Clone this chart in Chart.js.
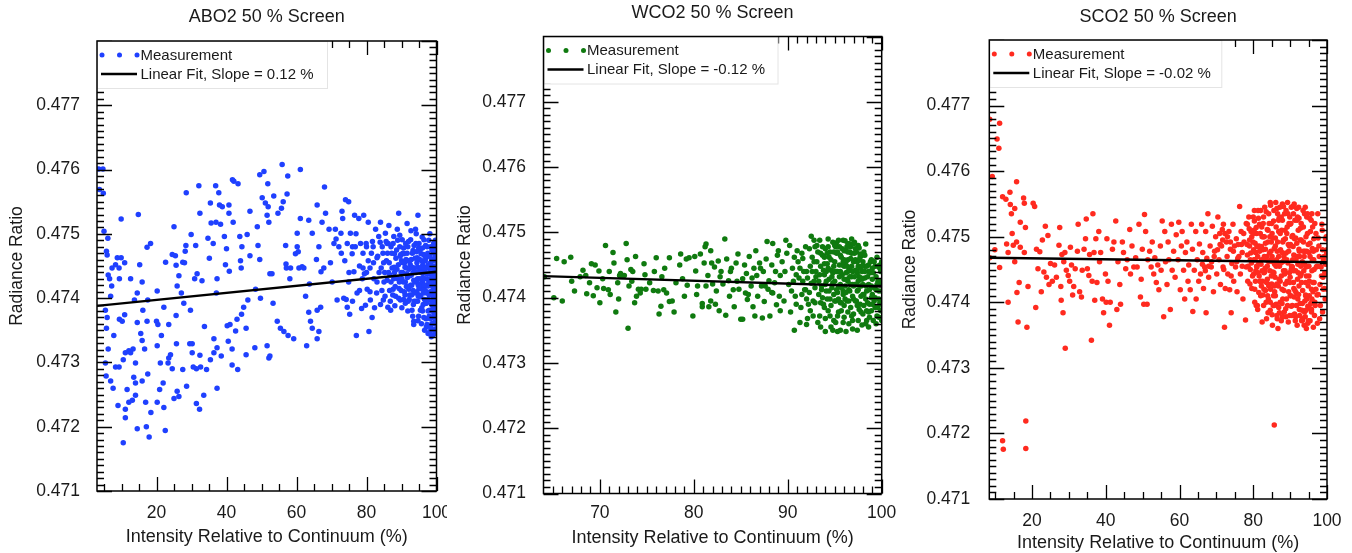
<!DOCTYPE html>
<html><head><meta charset="utf-8">
<script src="https://cdn.jsdelivr.net/npm/chart.js@4.4.1/dist/chart.umd.min.js"></script>
<style>
html,body{margin:0;padding:0;background:#fff;overflow:hidden;width:1352px;height:553px;}
canvas.p{position:absolute;top:0;background:#fff;}
</style></head><body>
<canvas id="c1" class="p" width="464" height="560" style="left:0px"></canvas>
<canvas id="c2" class="p" width="460" height="560" style="left:447px"></canvas>
<canvas id="c3" class="p" width="457" height="560" style="left:897px"></canvas>
<script>
// ---------- data ----------
const yTickValues = [0.471, 0.472, 0.473, 0.474, 0.475, 0.476, 0.477];
const xTicksABO = [20, 40, 60, 80, 100];
const xTicksWCO = [70, 80, 90, 100];
const xTicksSCO = [20, 40, 60, 80, 100];
const titles = ['ABO2 50 % Screen', 'WCO2 50 % Screen', 'SCO2 50 % Screen'];
const fitLabels = ['Linear Fit, Slope = 0.12 %', 'Linear Fit, Slope = -0.12 %', 'Linear Fit, Slope = -0.02 %'];
const fitABO = [[3, 0.47388], [100, 0.47441]];
const fitWCO = [[64, 0.47433], [100, 0.47417]];
const fitSCO = [[8.4, 0.47468], [100, 0.47461]];

const pointsABO = [
[3.5,.47601],[4.7,.47601],[3.7,.47569],[4.8,.47563],[5.0,.47504],[6.1,.47493],[5.7,.47473],[5.9,.47467],[6.2,.47436],[6.6,.47430],[7.2,.47419],[6.9,.47403],[5.4,.47381],[5.9,.47370],[5.7,.47353],[6.2,.47321],[5.4,.47299],[5.6,.47279],[6.9,.47271],[7.6,.47260],[8.3,.47293],[9.3,.47293],[7.8,.47342],[7.3,.47447],[8.3,.47452],[8.8,.47463],[9.3,.47447],[9.4,.47430],[9.4,.47367],[10.2,.47364],[9.0,.47233],[11.1,.47227],[11.1,.47214],[10.5,.47175],[9.9,.47523],[9.9,.47463],[10.9,.47455],[10.9,.47374],[11.1,.47315],[10.5,.47304],[12.1,.47318],[12.6,.47315],[13.3,.47321],[12.1,.47238],[13.1,.47241],[11.6,.47258],[14.0,.47249],[12.6,.47430],[13.7,.47397],[14.5,.47408],[14.8,.47530],[15.2,.47452],[15.9,.47425],[16.1,.47381],[14.5,.47362],[15.5,.47345],[15.9,.47334],[14.0,.47299],[13.5,.47277],[14.0,.47268],[14.5,.47197],[15.9,.47271],[16.6,.47321],[16.9,.47238],[17.1,.47200],[17.3,.47479],[18.3,.47485],[17.5,.47397],[17.3,.47364],[17.5,.47282],[17.9,.47184],[18.4,.47222],[20.2,.47411],[20.0,.47364],[20.4,.47359],[20.2,.47326],[20.2,.47238],[20.9,.47258],[21.4,.47342],[21.1,.47299],[22.1,.47386],[21.9,.47268],[22.1,.47230],[22.5,.47194],[22.6,.47456],[23.3,.47299],[23.5,.47307],[24.0,.47312],[23.5,.47359],[24.5,.47468],[25.0,.47511],[25.4,.47466],[25.6,.47451],[25.9,.47419],[25.6,.47373],[25.7,.47329],[24.5,.47290],[25.0,.47244],[25.9,.47255],[26.4,.47247],[26.4,.47435],[27.5,.47456],[27.1,.47408],[27.5,.47289],[28.0,.47455],[27.8,.47392],[28.2,.47473],[28.4,.47482],[28.5,.47564],[28.6,.47263],[29.5,.47329],[29.7,.47381],[29.9,.47499],[30.2,.47329],[30.2,.47315],[30.5,.47293],[30.9,.47430],[31.2,.47482],[31.4,.47290],[31.6,.47438],[32.1,.47575],[32.4,.47532],[32.4,.47311],[32.6,.47293],[32.3,.47227],[31.4,.47236],[33.0,.47427],[33.7,.47356],[33.5,.47249],[34.3,.47289],[34.7,.47493],[35.1,.47462],[35.4,.47548],[35.4,.47304],[35.6,.47517],[36.2,.47485],[36.4,.47337],[36.4,.47315],[36.9,.47575],[37.0,.47518],[37.3,.47430],[37.1,.47408],[37.3,.47323],[37.3,.47260],[37.8,.47564],[38.0,.47545],[38.3,.47515],[38.8,.47542],[38.5,.47310],[39.4,.47496],[39.7,.47452],[40.0,.47477],[40.2,.47357],[40.5,.47333],[40.7,.47545],[40.7,.47532],[41.0,.47359],[40.8,.47442],[41.6,.47296],[41.6,.47321],[41.7,.47584],[42.1,.47582],[41.9,.47518],[42.6,.47349],[43.0,.47367],[43.3,.47578],[43.2,.47289],[43.8,.47496],[44.0,.47458],[44.2,.47447],[44.3,.47375],[44.4,.47480],[44.9,.47386],[45.6,.47312],[45.6,.47353],[45.9,.47499],[46.1,.47397],[46.7,.47466],[46.7,.47535],[48.1,.47323],[48.3,.47414],[48.8,.47511],[49.0,.47482],[49.5,.47460],[49.5,.47592],[50.7,.47597],[50.2,.47556],[49.7,.47400],[51.1,.47548],[51.6,.47529],[51.8,.47578],[51.9,.47542],[52.1,.47518],[51.6,.47326],[52.1,.47307],[52.4,.47310],[52.4,.47438],[53.0,.47438],[53.3,.47392],[53.5,.47559],[54.7,.47532],[54.5,.47364],[55.4,.47353],[55.7,.47540],[55.9,.47608],[56.2,.47550],[56.4,.47348],[56.9,.47482],[57.0,.47453],[57.5,.47590],[57.3,.47562],[57.1,.47447],[57.6,.47342],[58.1,.47430],[58.3,.47447],[59.2,.47337],[59.7,.47469],[60.2,.47501],[60.2,.47480],[60.5,.47472],[60.7,.47447],[61.1,.47600],[61.1,.47524],[61.6,.47449],[62.1,.47447],[62.9,.47326],[62.6,.47403],[63.5,.47521],[63.7,.47422],[63.5,.47378],[64.0,.47364],[64.5,.47501],[64.5,.47353],[65.7,.47460],[65.9,.47545],[66.4,.47480],[65.9,.47381],[65.9,.47337],[66.4,.47348],[66.9,.47386],[67.0,.47441],[67.3,.47518],[68.0,.47573],[68.3,.47532],[67.8,.47447],[69.3,.47507],[69.7,.47455],[70.2,.47425],[70.7,.47485],[71.1,.47507],[71.6,.47397],[72.1,.47480],[72.7,.47501],[73.0,.47535],[73.2,.47524],[73.5,.47400],[73.8,.47458],[74.0,.47553],[74.5,.47386],[74.9,.47550],[74.5,.47485],[74.9,.47425],[75.2,.47375],[75.4,.47501],[75.9,.47469],[76.4,.47441],[76.6,.47529],[76.8,.47480],[77.1,.47342],[77.3,.47408],[77.8,.47524],[78.3,.47485],[78.6,.47384],[78.8,.47430],[79.0,.47447],[79.2,.47529],[79.7,.47389],[80.0,.47480],[80.2,.47414],[80.5,.47518],[80.7,.47348],[81.0,.47447],[81.1,.47397],[81.6,.47370],[81.9,.47480],[82.1,.47430],[82.6,.47507],[82.9,.47408],[83.0,.47463],[83.5,.47496],[84.0,.47518],[84.2,.47447],[84.5,.47480],[84.8,.47397],[85.0,.47425],[85.4,.47501],[85.7,.47458],[85.9,.47485],[86.1,.47386],[86.4,.47513],[86.7,.47436],[86.9,.47381],[87.0,.47480],[87.3,.47447],[87.6,.47414],[87.8,.47496],[88.0,.47469],[88.3,.47403],[88.8,.47507],[89.0,.47430],[89.2,.47532],[89.5,.47480],[89.7,.47397],[90.0,.47458],[90.2,.47491],[90.5,.47425],[90.7,.47469],[91.1,.47392],[91.4,.47447],[91.6,.47516],[91.8,.47480],[92.1,.47414],[92.4,.47458],[92.6,.47491],[92.8,.47436],[93.0,.47381],[93.3,.47474],[93.5,.47364],[93.5,.47359],[93.7,.47447],[94.0,.47507],[94.3,.47425],[94.5,.47463],[94.7,.47529],[94.8,.47403],[95.0,.47485],[95.2,.47441],[95.4,.47381],[95.6,.47469],[95.9,.47414],[96.1,.47452],[96.4,.47491],[96.4,.47370],[96.7,.47430],[96.9,.47392],[97.0,.47463],[97.3,.47480],[97.3,.47359],[97.6,.47419],[97.8,.47447],[98.0,.47381],[98.1,.47348],[98.3,.47480],[98.3,.47408],[98.6,.47436],[98.8,.47458],[98.8,.47370],[98.9,.47342],[99.0,.47414],[99.2,.47485],[99.2,.47392],[99.4,.47447],[99.5,.47425],[99.7,.47469],[99.7,.47381],[99.8,.47403],[99.9,.47436],
[86.5,.47455],[87.2,.47470],[87.8,.47430],[88.4,.47462],[88.9,.47490],[89.3,.47415],[89.8,.47468],[90.3,.47440],[90.6,.47478],[91.0,.47405],[91.3,.47460],[91.7,.47432],[92.0,.47488],[92.2,.47398],[92.5,.47452],[92.9,.47420],[93.1,.47470],[93.4,.47440],[93.6,.47395],[93.9,.47462],[94.1,.47485],[94.4,.47410],[94.6,.47448],[94.9,.47372],[95.1,.47430],[95.3,.47475],[95.5,.47402],[95.8,.47458],[96.0,.47425],[96.2,.47390],[96.3,.47468],[96.5,.47440],[96.8,.47412],[96.9,.47482],[97.1,.47355],[97.2,.47448],[97.4,.47395],[97.5,.47430],[97.7,.47466],[97.9,.47405],[98.0,.47440],[98.2,.47368],[98.3,.47455],[98.4,.47420],[98.6,.47390],[98.7,.47475],[98.8,.47432],[98.9,.47360],[99.0,.47450],[99.1,.47400],[99.2,.47428],[99.3,.47375],[99.4,.47462],[99.5,.47410],[99.6,.47440],[99.7,.47352],[99.7,.47490],[99.8,.47420],[99.9,.47395],[99.9,.47458],[100,.47435],[100,.47470],[100,.47385],[95.7,.47360],[96.6,.47350],[97.6,.47345],[98.5,.47340],[99.1,.47350],[94.7,.47365],[93.2,.47372],[91.8,.47380],[90.1,.47385],[88.1,.47388],[86.8,.47395],[85.3,.47403],[84.0,.47390],[82.3,.47385],[83.6,.47440],[84.7,.47470],[85.9,.47428],[86.2,.47485],[87.5,.47405],[88.7,.47445],[89.5,.47498],[90.9,.47455],[92.7,.47505],[94.2,.47500],[95.9,.47495],[97.8,.47490],[99.3,.47485],[98.1,.47500],[96.7,.47465],[95.4,.47445],[93.8,.47425],[92.4,.47435],[91.1,.47425],[89.9,.47412],[88.2,.47418],[86.3,.47440],[84.9,.47455],[83.2,.47465],[81.4,.47470],[80.5,.47458],[79.4,.47438],[78.0,.47412],[76.0,.47395],[74.2,.47398],[72.8,.47470],[71.3,.47492],[79.9,.47485],[81.7,.47488],[83.9,.47487],[85.6,.47488],[87.6,.47485],
[88.6,.47475],[89.1,.47452],[89.4,.47425],[89.9,.47440],[90.4,.47470],[90.8,.47410],[91.2,.47485],[91.5,.47438],[91.9,.47458],[92.3,.47405],[92.6,.47420],[93.0,.47448],[93.3,.47412],[93.6,.47482],[93.8,.47440],[94.1,.47395],[94.4,.47455],[94.6,.47430],[94.9,.47478],[95.1,.47405],[95.3,.47422],[95.6,.47440],[95.8,.47385],[96.0,.47478],[96.2,.47418],[96.4,.47445],[96.6,.47398],[96.8,.47458],[97.0,.47420],[97.1,.47392],[97.3,.47438],[97.5,.47470],[97.6,.47398],[97.8,.47425],[97.9,.47372],[98.0,.47465],[98.2,.47410],[98.3,.47440],[98.5,.47380],[98.6,.47460],[98.7,.47405],[98.9,.47425],[99.0,.47385],[99.1,.47470],[99.2,.47445],[99.3,.47405],[99.4,.47362],[99.5,.47480],[99.6,.47415],[99.6,.47390],[99.7,.47450],[99.8,.47370],[99.8,.47430],[99.9,.47475],[99.9,.47345],[100,.47405],[100,.47450],[100,.47360],[99.5,.47440],[99.0,.47432],[98.4,.47448],[97.7,.47452],[96.9,.47440],[96.1,.47432],[95.2,.47460],[94.2,.47440],[93.5,.47428],[92.2,.47445],[91.0,.47448],[89.6,.47465],[88.0,.47440],[87.0,.47425],[86.0,.47470],[84.4,.47412],[83.0,.47425],[82.0,.47455],[81.0,.47410],[80.0,.47440],[79.0,.47470],[78.0,.47450],[77.0,.47500],[76.0,.47480],[75.0,.47440],[85.2,.47440],[86.6,.47412],[87.9,.47448],[89.2,.47400],[90.6,.47398],[91.9,.47395],[93.4,.47390],[94.8,.47420],[96.3,.47408],[97.6,.47380],[98.9,.47395],[99.6,.47360],[98.3,.47355],[97.0,.47368],
[90.1,.47430],[91.4,.47418],[92.8,.47460],[93.9,.47408],[94.3,.47472],[95.0,.47415],[95.7,.47448],[96.5,.47420],[97.2,.47408],[97.9,.47450],[98.5,.47425],[99.1,.47440],[99.8,.47445],[99.4,.47385],[98.7,.47360],[96.0,.47380],[94.6,.47395],[92.9,.47405],[91.6,.47470],[90.4,.47455]
];

const pointsWCO = [
[64.1,.47432],[65.1,.47400],[65.4,.47460],[66.9,.47462],[67.3,.47410],[67.9,.47432],[68.5,.47434],[68.6,.47406],[68.9,.47423],[69.1,.47452],[69.3,.47403],[69.5,.47450],[69.9,.47441],[70.0,.47392],[70.3,.47429],[70.4,.47414],[70.6,.47480],[70.9,.47412],[71.1,.47405],[71.4,.47469],[71.5,.47453],[71.7,.47378],[71.9,.47423],[72.1,.47434],[72.2,.47437],[72.4,.47434],[72.6,.47434],[72.8,.47483],[72.9,.47458],[73.0,.47353],[73.1,.47418],[73.3,.47443],[73.5,.47440],[73.7,.47392],[73.8,.47463],[73.9,.47402],[74.1,.47413],[74.3,.47407],[74.4,.47413],[74.7,.47452],[74.9,.47413],[75.3,.47423],[75.7,.47411],[76.0,.47461],[76.2,.47410],[76.3,.47375],[76.5,.47387],[76.8,.47412],[76.9,.47445],[77.1,.47407],[77.4,.47461],[77.4,.47394],[77.9,.47378],[78.1,.47423],[78.5,.47450],[78.6,.47467],[78.8,.47429],[79.2,.47459],[79.3,.47419],[79.5,.47461],[79.9,.47372],[80.1,.47463],[80.2,.47441],[80.4,.47418],[80.7,.47467],[80.9,.47391],[80.9,.47386],[81.1,.47453],[81.2,.47478],[81.3,.47482],[81.3,.47418],[81.5,.47434],[81.6,.47386],[81.8,.47472],[81.9,.47453],[82.0,.47421],[82.2,.47447],[82.3,.47390],[82.4,.47410],[82.6,.47456],[82.7,.47380],[82.9,.47440],[83.1,.47421],[83.3,.47490],[83.4,.47373],[83.5,.47459],[83.7,.47426],[83.8,.47402],[84.0,.47445],[84.2,.47412],[84.3,.47386],[84.5,.47453],[84.7,.47467],[84.8,.47413],[85.0,.47367],[85.2,.47429],[85.2,.47367],[85.4,.47450],[85.5,.47407],[85.6,.47437],[85.7,.47397],[85.9,.47463],[86.1,.47418],[86.3,.47386],[86.4,.47445],[86.5,.47372],[86.6,.47472],[86.7,.47434],[86.8,.47402],[87.0,.47453],[87.2,.47418],[87.3,.47369],[87.4,.47440],[87.5,.47394],[87.7,.47459],[87.8,.47486],[87.9,.47413],[88.0,.47426],[88.1,.47372],[88.3,.47450],[88.4,.47483],[88.4,.47407],[88.6,.47423],[88.7,.47440],[88.8,.47389],[89.0,.47472],[89.1,.47402],[89.2,.47434],[90.7,.47350],[92.0,.47359],[94.0,.47348],[95.3,.47348],[92.5,.47494],[94.3,.47478],[95.2,.47484],[96.4,.47483],[96.6,.47482],[97.7,.47467],[98.6,.47450],[99.8,.47445],
[89.4,.47455],[89.6,.47395],[89.9,.47468],[90.1,.47420],[90.3,.47378],[90.5,.47445],[90.8,.47402],[91.0,.47472],[91.2,.47430],[91.4,.47385],[91.6,.47460],[91.8,.47412],[92.0,.47440],[92.1,.47368],[92.3,.47475],[92.5,.47422],[92.7,.47395],[92.8,.47455],[93.0,.47432],[93.1,.47480],[93.3,.47405],[93.4,.47372],[93.5,.47448],[93.6,.47418],[93.7,.47465],[93.8,.47390],[93.9,.47435],[94.0,.47475],[94.1,.47410],[94.2,.47452],[94.3,.47380],[94.4,.47428],[94.5,.47470],[94.5,.47398],[94.6,.47442],[94.7,.47415],[94.8,.47485],[94.9,.47365],[95.0,.47455],[95.0,.47425],[95.1,.47395],[95.2,.47468],[95.3,.47440],[95.3,.47408],[95.4,.47378],[95.5,.47478],[95.5,.47450],[95.6,.47420],[95.7,.47392],[95.7,.47462],[95.8,.47435],[95.9,.47405],[95.9,.47488],[96.0,.47448],[96.0,.47370],[96.1,.47418],[96.2,.47472],[96.2,.47438],[96.3,.47395],[96.4,.47458],[96.4,.47425],[96.5,.47360],[96.5,.47482],[96.6,.47445],[96.6,.47410],[96.7,.47385],[96.8,.47468],[96.8,.47432],[96.9,.47402],[97.0,.47455],[97.0,.47375],[97.1,.47485],[97.1,.47420],[97.2,.47442],[97.3,.47395],[97.3,.47470],[97.4,.47410],[97.5,.47448],[97.5,.47365],[97.6,.47432],[97.7,.47462],[97.7,.47390],[97.8,.47418],[97.9,.47440],[98.0,.47375],[98.0,.47455],[98.1,.47405],[98.2,.47430],[98.3,.47360],[98.4,.47448],[98.5,.47392],[98.6,.47420],[98.7,.47370],[98.8,.47438],[98.9,.47400],[99.0,.47445],[99.1,.47365],[99.2,.47415],[99.3,.47385],[99.4,.47432],[99.5,.47372],[99.6,.47448],[99.7,.47398],[99.8,.47420],[99.9,.47380],[100,.47410],[100,.47440],[100,.47365],[99.4,.47360],[98.6,.47355],[97.9,.47358],[96.9,.47352],[95.6,.47350],[94.6,.47355],[93.2,.47362],[92.2,.47390],[91.5,.47405],[90.6,.47425],[89.7,.47440],[93.9,.47452],[94.8,.47438],[95.2,.47412],[96.3,.47428],[97.4,.47438],[95.8,.47475],[96.7,.47478],[97.2,.47458],[94.2,.47468],[93.4,.47488],[92.6,.47462],[91.9,.47478],[90.9,.47390],[91.3,.47445],[89.2,.47380],[88.9,.47465],[88.3,.47408],[87.6,.47418],[87.1,.47445],[86.2,.47430],[85.8,.47405],[84.6,.47425],[83.9,.47440],[82.8,.47432],[81.8,.47395],[80.3,.47405],[79.0,.47402],[77.7,.47395],[76.6,.47432],[75.8,.47440],[74.8,.47435],[73.4,.47425],[72.0,.47398],[71.0,.47440],[69.7,.47415],[68.2,.47442],[67.0,.47425],[66.2,.47455],[66.0,.47395],[97.5,.47480],[96.1,.47487],[98.1,.47470],[98.9,.47458],[99.5,.47462],[99.8,.47450],[98.3,.47482],
[91.1,.47455],[91.6,.47425],[92.0,.47398],[92.4,.47448],[92.9,.47415],[93.2,.47470],[93.5,.47392],[93.8,.47442],[94.0,.47420],[94.2,.47398],[94.4,.47462],[94.7,.47432],[94.9,.47405],[95.1,.47478],[95.2,.47440],[95.4,.47418],[95.6,.47465],[95.7,.47380],[95.8,.47450],[96.0,.47428],[96.1,.47398],[96.2,.47455],[96.3,.47478],[96.5,.47412],[96.6,.47432],[96.7,.47460],[96.8,.47372],[96.9,.47440],[97.0,.47418],[97.1,.47468],[97.2,.47395],[97.4,.47455],[97.5,.47425],[97.6,.47382],[97.7,.47445],[97.8,.47402],[97.9,.47465],[98.0,.47420],[98.1,.47388],[98.2,.47448],[98.4,.47410],[98.5,.47432],[98.7,.47390],[98.8,.47455],[98.9,.47418],[99.1,.47438],[99.2,.47395],[99.4,.47412],[99.6,.47425],[99.8,.47392],[99.9,.47440],[93.0,.47440],[93.6,.47412],[94.1,.47440],[94.6,.47388],[95.0,.47395],[95.5,.47432],[95.9,.47410],[96.4,.47440],[96.9,.47420],[97.3,.47440],[97.8,.47430],[98.3,.47398],[98.6,.47378],[99.0,.47405],[99.3,.47448],[99.7,.47410],[94.3,.47490],[95.4,.47488],[96.8,.47490],[97.0,.47482],[97.6,.47476],[96.0,.47472],[94.9,.47470],[93.7,.47478],[92.8,.47488],[90.2,.47480],[89.8,.47488],[90.7,.47462],[91.7,.47440],[92.4,.47380],[93.5,.47355],[94.8,.47350],[96.2,.47348],[97.4,.47350],[95.9,.47362],[94.0,.47368],[92.7,.47372],[91.3,.47362],[99.7,.47370],[100,.47390],[100,.47425],[100,.47455],
[92.1,.47430],[92.3,.47408],[92.6,.47440],[92.9,.47392],[93.1,.47455],[93.3,.47425],[93.5,.47468],[93.7,.47400],[93.9,.47385],[94.1,.47425],[94.3,.47445],[94.5,.47372],[94.6,.47458],[94.8,.47422],[95.0,.47440],[95.1,.47362],[95.3,.47470],[95.4,.47398],[95.6,.47440],[95.7,.47415],[95.9,.47455],[96.0,.47388],[96.2,.47408],[96.3,.47448],[96.4,.47378],[96.6,.47470],[96.7,.47420],[96.8,.47448],[97.0,.47398],[97.1,.47432],[97.2,.47475],[97.4,.47388],[97.5,.47412],[97.6,.47458],[97.8,.47378],[97.9,.47428],[98.0,.47405],[98.2,.47465],[98.3,.47418],[98.4,.47380],[98.6,.47440],[98.7,.47412],[98.9,.47380],[99.0,.47428],[99.2,.47455],[99.3,.47400],[99.5,.47420],[99.6,.47385],[93.4,.47435],[94.4,.47410],[95.6,.47392],[96.5,.47395],[97.3,.47420],[98.2,.47440],[96.0,.47458],[94.9,.47448],[93.9,.47462],[95.3,.47372],[96.9,.47365],[98.4,.47365],[92.8,.47425],[91.9,.47412],[90.9,.47435],[90.4,.47410],[91.5,.47468],[92.9,.47478],[95.0,.47480],[96.4,.47470],[97.9,.47448],[99.0,.47390]
];

const pointsSCO = [
[8.5,.47679],[11.2,.47673],[10.5,.47649],[11.0,.47635],[9.2,.47592],[8.5,.47468],[9.9,.47480],[11.2,.47453],[12.0,.47561],[12.9,.47557],[13.1,.47489],[13.5,.47476],[13.5,.47400],[14.0,.47568],[14.1,.47549],[14.4,.47535],[14.6,.47505],[14.9,.47487],[15.3,.47543],[15.3,.47462],[15.8,.47584],[15.8,.47492],[15.9,.47415],[16.2,.47370],[16.5,.47430],[16.8,.47522],[16.8,.47484],[17.7,.47559],[17.9,.47551],[17.9,.47476],[18.2,.47514],[18.6,.47362],[18.9,.47424],[20.3,.47551],[20.7,.47546],[21.0,.47392],[21.2,.47481],[21.6,.47451],[22.1,.47477],[22.5,.47416],[22.8,.47495],[23.2,.47446],[23.6,.47516],[23.9,.47438],[24.3,.47502],[24.6,.47427],[25.0,.47459],[25.5,.47432],[26.1,.47457],[26.6,.47438],[27.3,.47487],[27.5,.47514],[27.8,.47424],[27.9,.47403],[28.1,.47473],[28.4,.47384],[28.6,.47462],[28.9,.47476],[29.0,.47330],[29.3,.47449],[29.8,.47441],[30.2,.47432],[30.4,.47484],[30.7,.47457],[31.0,.47411],[31.3,.47424],[31.7,.47451],[32.3,.47478],[32.5,.47519],[32.9,.47416],[33.4,.47408],[33.6,.47449],[34.1,.47481],[34.5,.47497],[34.7,.47527],[35.0,.47451],[35.4,.47441],[35.6,.47473],[36.1,.47342],[36.3,.47432],[36.5,.47535],[36.8,.47476],[37.0,.47403],[37.3,.47497],[37.6,.47430],[38.1,.47508],[38.3,.47462],[38.6,.47476],[39.1,.47405],[39.4,.47384],[39.9,.47443],[40.1,.47400],[40.3,.47497],[40.6,.47432],[41.0,.47365],[41.2,.47400],[41.8,.47481],[42.2,.47492],[42.7,.47524],[43.0,.47389],[43.3,.47462],[43.8,.47427],[44.0,.47397],[44.5,.47492],[44.8,.47476],[45.4,.47451],[45.8,.47465],[46.5,.47511],[46.7,.47443],[47.1,.47486],[47.6,.47454],[48.1,.47468],[48.5,.47454],[49.0,.47519],[49.4,.47408],[49.6,.47435],[49.9,.47481],[50.3,.47397],[50.5,.47534],[50.8,.47508],[51.2,.47397],[51.4,.47465],[51.9,.47478],[52.3,.47454],[52.6,.47492],[53.0,.47443],[53.3,.47468],[53.7,.47430],[54.1,.47457],[54.4,.47419],[54.8,.47486],[55.0,.47449],[55.3,.47524],[55.7,.47378],[56.0,.47508],[56.2,.47462],[56.6,.47427],[56.9,.47492],[57.1,.47465],[57.5,.47389],[57.8,.47519],[58.0,.47449],[58.4,.47478],[58.8,.47438],[59.1,.47503],[59.6,.47465],[59.8,.47522],[60.2,.47419],[60.5,.47486],[60.7,.47508],[61.1,.47449],[61.4,.47405],[61.6,.47476],[62.0,.47492],[62.3,.47432],[62.5,.47457],[62.9,.47419],[63.2,.47519],[63.5,.47481],[63.6,.47386],[64.0,.47449],[64.4,.47508],[64.5,.47405],[64.8,.47465],[65.2,.47432],[65.4,.47489],[65.7,.47443],[66.0,.47519],[66.3,.47476],[66.5,.47421],[66.8,.47454],[67.1,.47508],[67.2,.47384],[67.4,.47467],[67.7,.47535],[67.9,.47438],[68.3,.47486],[68.6,.47454],[68.9,.47516],[69.2,.47416],[69.5,.47478],[69.8,.47500],[70.1,.47443],[70.4,.47530],[70.7,.47465],[70.9,.47505],[71.1,.47427],[71.4,.47486],[71.6,.47511],[71.8,.47454],[71.9,.47519],[72.2,.47362],[72.4,.47421],[72.7,.47492],[72.9,.47470],[73.1,.47443],[73.4,.47508],[73.6,.47419],[73.8,.47481],[74.0,.47384],[74.2,.47459],[74.5,.47519],[74.7,.47432],[74.9,.47486],[75.2,.47454],[75.4,.47497],[75.6,.47416],[75.8,.47467],[76.3,.47546],[76.5,.47443],[76.7,.47508],[77.0,.47476],[77.2,.47405],[77.5,.47492],[77.9,.47373],[78.1,.47454],[78.4,.47519],[78.5,.47432],[78.8,.47530],[79.0,.47486],[79.2,.47465],[79.4,.47508],[79.6,.47421],[79.9,.47492],[80.1,.47443],[80.3,.47524],[80.4,.47400],[80.6,.47476],[80.8,.47514],[81.0,.47454],[81.2,.47389],[81.5,.47486],[81.7,.47519],[81.9,.47432],[82.2,.47465],[82.4,.47500],[82.6,.47411],[82.8,.47530],[83.1,.47446],[83.3,.47481],[83.5,.47400],[83.8,.47511],[84.0,.47384],[84.2,.47462],[84.4,.47427],[84.6,.47552],[84.9,.47492],[85.1,.47381],[85.3,.47446],[85.5,.47524],[85.8,.47416],[86.0,.47486],[86.2,.47397],[86.4,.47543],[86.7,.47459],[86.9,.47508],[87.1,.47384],[87.3,.47432],[87.6,.47530],[87.8,.47476],[88.0,.47405],[88.2,.47546],[88.5,.47443],[88.7,.47497],[88.9,.47378],[89.1,.47465],[89.4,.47535],[89.6,.47416],[89.8,.47486],[90.0,.47519],[90.3,.47394],[90.6,.47454],[90.7,.47546],[91.0,.47421],[91.2,.47497],[91.5,.47378],[91.6,.47465],[91.8,.47543],[92.1,.47405],[92.4,.47481],[92.5,.47389],[92.8,.47513],[93.0,.47443],[93.3,.47375],[93.4,.47373],[93.6,.47492],[93.9,.47535],[94.2,.47411],[94.3,.47454],[94.5,.47530],[94.8,.47394],[95.1,.47476],[95.2,.47432],[95.5,.47508],[95.8,.47389],[96.0,.47465],[96.2,.47416],[96.4,.47497],[96.7,.47400],[97.1,.47454],[97.3,.47411],[97.5,.47535],[97.8,.47486],[98.1,.47427],[98.4,.47454],[98.6,.47519],[98.9,.47438],[99.0,.47465],[99.3,.47421],[99.6,.47497],[99.8,.47443],[99.9,.47476],
[12.0,.47189],[12.2,.47176],[18.3,.47219],[18.3,.47177],[85.7,.47213],
[78.3,.47488],[78.6,.47455],[78.9,.47512],[79.1,.47428],[79.3,.47475],[79.6,.47500],[79.8,.47440],[80.0,.47530],[80.2,.47465],[80.4,.47420],[80.5,.47490],[80.7,.47448],[80.9,.47505],[81.1,.47395],[81.2,.47470],[81.4,.47528],[81.6,.47440],[81.8,.47485],[82.0,.47410],[82.1,.47458],[82.3,.47515],[82.5,.47432],[82.6,.47480],[82.8,.47395],[83.0,.47500],[83.2,.47452],[83.3,.47418],[83.5,.47538],[83.7,.47470],[83.8,.47435],[84.0,.47492],[84.1,.47405],[84.3,.47520],[84.5,.47448],[84.6,.47388],[84.8,.47478],[85.0,.47428],[85.1,.47505],[85.3,.47462],[85.4,.47395],[85.6,.47540],[85.7,.47482],[85.9,.47438],[86.0,.47410],[86.2,.47515],[86.3,.47465],[86.5,.47375],[86.6,.47492],[86.8,.47425],[87.0,.47528],[87.1,.47455],[87.3,.47400],[87.4,.47480],[87.6,.47440],[87.7,.47510],[87.9,.47378],[88.0,.47462],[88.2,.47495],[88.3,.47418],[88.5,.47535],[88.6,.47448],[88.8,.47390],[88.9,.47475],[89.1,.47505],[89.2,.47432],[89.4,.47460],[89.5,.47370],[89.7,.47520],[89.8,.47445],[90.0,.47410],[90.1,.47488],[90.3,.47545],[90.4,.47455],[90.6,.47395],[90.7,.47502],[90.9,.47430],[91.0,.47472],[91.2,.47382],[91.3,.47525],[91.5,.47448],[91.6,.47415],[91.8,.47490],[91.9,.47365],[92.1,.47458],[92.2,.47510],[92.4,.47425],[92.5,.47478],[92.7,.47398],[92.8,.47440],[93.0,.47495],[93.1,.47372],[93.3,.47462],[93.4,.47418],[93.6,.47515],[93.7,.47448],[93.9,.47385],[94.0,.47478],[94.2,.47430],[94.3,.47500],[94.5,.47405],[94.6,.47455],[94.8,.47368],[94.9,.47488],[95.1,.47440],[95.2,.47410],[95.4,.47470],[95.5,.47390],[95.7,.47525],[95.9,.47448],[96.0,.47402],[96.3,.47478],[96.5,.47430],[96.8,.47395],[97.0,.47505],[97.3,.47455],[97.6,.47412],[97.9,.47470],[98.2,.47395],[98.5,.47440],[98.8,.47385],[99.2,.47470],[99.5,.47405],[99.8,.47500],[100,.47445],[100,.47480],[93.8,.47365],[94.4,.47360],[95.0,.47372],[92.6,.47380],[91.4,.47372],[89.9,.47380],[88.4,.47385],[86.9,.47392],[85.5,.47410],[84.2,.47425],[82.9,.47445],[81.5,.47460],[80.1,.47480],[79.0,.47495],[78.1,.47520],[77.4,.47505],[76.8,.47488],[76.1,.47470],[75.5,.47462],[74.6,.47478],[73.8,.47492],[73.0,.47500],[72.3,.47505],[71.7,.47495],[71.0,.47488],[70.3,.47480],[69.4,.47470],[68.7,.47462],[67.9,.47455],[67.0,.47448],[66.2,.47458],[84.7,.47548],[86.1,.47552],[87.9,.47550],[89.3,.47552],[91.1,.47550],[92.3,.47545],[93.5,.47540],[94.7,.47535],[95.3,.47528],[96.1,.47515],[97.1,.47480],[98.7,.47510],[99.6,.47458],[96.6,.47380],[97.4,.47368],[98.0,.47375],[99.0,.47420],[100,.47420],[82.4,.47370],[80.8,.47395],[83.6,.47375],[85.2,.47365],[86.7,.47360],[88.1,.47378],[90.5,.47380],[95.8,.47385],
[79.5,.47460],[80.0,.47505],[80.6,.47432],[81.0,.47485],[81.5,.47415],[81.9,.47505],[82.4,.47448],[82.9,.47420],[83.3,.47490],[83.8,.47455],[84.2,.47535],[84.7,.47420],[85.1,.47470],[85.6,.47445],[86.0,.47498],[86.4,.47428],[86.9,.47470],[87.3,.47505],[87.8,.47420],[88.2,.47448],[88.6,.47510],[89.0,.47405],[89.5,.47488],[89.9,.47430],[90.2,.47520],[90.7,.47465],[91.1,.47408],[91.5,.47498],[92.0,.47435],[92.4,.47528],[92.9,.47455],[93.3,.47398],[93.8,.47470],[94.2,.47410],[94.7,.47505],[95.1,.47455],[95.6,.47398],[96.0,.47482],[96.5,.47450],[97.0,.47420],[80.3,.47540],[82.0,.47540],[83.1,.47545],[87.2,.47545],[88.9,.47540],[90.9,.47535],[92.0,.47530],[86.4,.47380],[84.6,.47400],[87.6,.47372],[89.3,.47395],[91.7,.47395],[93.2,.47388],[94.1,.47378],[95.4,.47372],[96.3,.47362],[81.8,.47432],[83.5,.47465],[85.8,.47458],[88.0,.47492],[90.3,.47450],[92.6,.47470],[94.4,.47440],[96.2,.47430],[98.0,.47455],[98.8,.47480],[99.4,.47445],[97.6,.47498],[96.7,.47520],[95.9,.47535],[94.1,.47545],[85.0,.47520],[82.7,.47500],[80.5,.47465],[79.2,.47450],[78.4,.47472],[77.0,.47455],[75.9,.47488],[74.0,.47440],[72.0,.47450],
[80.2,.47510],[80.9,.47455],[81.3,.47540],[81.7,.47478],[82.2,.47425],[82.7,.47520],[83.0,.47470],[83.6,.47430],[84.0,.47510],[84.4,.47475],[84.9,.47440],[85.3,.47498],[85.7,.47425],[86.2,.47455],[86.6,.47535],[87.0,.47435],[87.5,.47460],[87.9,.47525],[88.3,.47470],[88.7,.47428],[89.2,.47515],[89.6,.47478],[90.0,.47438],[90.5,.47500],[90.9,.47448],[91.3,.47418],[91.8,.47470],[92.2,.47445],[92.7,.47495],[93.1,.47430],[93.6,.47478],[94.0,.47402],[94.5,.47478],[94.9,.47425],[95.4,.47490],[95.8,.47420],[96.4,.47465],[93.0,.47520],[91.9,.47525],[89.9,.47530],[86.9,.47525],[84.5,.47500],[82.2,.47485],[81.3,.47445],[83.9,.47410],[85.7,.47395],[87.8,.47398],[90.2,.47410],[92.3,.47412],[94.3,.47388],[95.9,.47405],[88.5,.47465],[86.5,.47478],[84.9,.47465],[90.8,.47485],[93.9,.47458]
];

// ---------- rendering ----------
const TXT = '#1a1a1a';
Chart.defaults.font.family = "'Liberation Sans', Arial, Helvetica, sans-serif";
Chart.defaults.color = TXT;

const frameTicks = {
  id: 'frameTicks',
  afterDraw(chart, args, o) {
    const {ctx, chartArea: a} = chart;
    const xs = chart.scales.x, ys = chart.scales.y;
    ctx.save();
    ctx.strokeStyle = '#000';
    ctx.lineWidth = 1.3;
    ctx.beginPath();
    for (let v = o.xMinorStart; v <= 100.0001; v += o.xMinorStep) {
      const val = Math.round(v * 1000) / 1000;
      if (val < xs.min) continue;
      const major = o.xMajor.indexOf(val) >= 0;
      const L = major ? 14 : 7;
      const p = Math.round(xs.getPixelForValue(val)) + 0.5;
      ctx.moveTo(p, a.bottom); ctx.lineTo(p, a.bottom - L);
      ctx.moveTo(p, a.top); ctx.lineTo(p, a.top + L);
    }
    for (let k = 4710; k <= 4780; k++) {
      const major = (k % 10) === 0;
      const L = major ? 15 : 7;
      const p = Math.round(ys.getPixelForValue(k / 10000)) + 0.5;
      ctx.moveTo(a.left, p); ctx.lineTo(a.left + L, p);
      ctx.moveTo(a.right, p); ctx.lineTo(a.right - L, p);
    }
    ctx.stroke();
    // legend box
    const lx = a.left, ly = a.top;
    ctx.fillStyle = '#fff';
    ctx.fillRect(lx, ly, o.legendW, 47);
    ctx.strokeStyle = '#e4e4e4';
    ctx.lineWidth = 1;
    ctx.strokeRect(lx + 0.5, ly + 0.5, o.legendW, 47);
    // frame
    ctx.strokeStyle = '#000';
    ctx.lineWidth = 1.5;
    ctx.strokeRect(a.left, a.top, a.right - a.left, a.bottom - a.top);
    // legend entries
    ctx.fillStyle = o.color;
    [5, 22.5, 40].forEach(dx => { ctx.beginPath(); ctx.arc(lx + dx, ly + 14, 2.5, 0, Math.PI * 2); ctx.fill(); });
    ctx.strokeStyle = '#000';
    ctx.lineWidth = 2.4;
    ctx.beginPath(); ctx.moveTo(lx + 4, ly + 33); ctx.lineTo(lx + 40, ly + 33); ctx.stroke();
    ctx.fillStyle = TXT;
    ctx.font = "15px 'Liberation Sans', Arial, sans-serif";
    ctx.textBaseline = 'middle';
    ctx.textAlign = 'left';
    ctx.fillText('Measurement', lx + 43.5, ly + 14.5);
    ctx.fillText(o.fitLabel, lx + 43.5, ly + 33.5);
    ctx.restore();
  }
};

function makePanel(id, c) {
  new Chart(document.getElementById(id), {
    type: 'scatter',
    data: {
      datasets: [
        { label: c.fitLabel, data: c.fit.map(p => ({x: p[0], y: p[1]})), showLine: true,
          borderColor: '#000', borderWidth: 2.4, pointRadius: 0, fill: false, order: 0 },
        { label: 'Measurement', data: c.points.map(p => ({x: p[0], y: p[1]})),
          backgroundColor: c.color, borderWidth: 0, pointRadius: 2.75, pointHoverRadius: 2.75, order: 1 }
      ]
    },
    options: {
      responsive: false, animation: false, devicePixelRatio: 1,
      events: [],
      layout: { padding: { left: 0, right: c.padRight, top: 0, bottom: 0 } },
      plugins: {
        legend: { display: false },
        tooltip: { enabled: false },
        title: { display: true, text: c.title, fullSize: false, color: TXT,
                 font: { size: 18, weight: 'normal' }, padding: { top: c.titleTop, bottom: c.titleBottom } },
        frameTicks: { xMinorStart: c.xMinorStart, xMinorStep: c.xMinorStep, xMajor: c.xTicks,
                      legendW: c.legendW, color: c.color, fitLabel: c.fitLabel }
      },
      scales: {
        x: {
          type: 'linear', min: c.xMin, max: 100,
          afterBuildTicks: s => { s.ticks = c.xTicks.map(v => ({ value: v })); },
          afterFit: s => { s.height = c.xHeight; },
          grid: { display: false, drawTicks: false }, border: { display: false },
          ticks: { font: { size: 17.5 }, color: TXT, padding: c.xPad, maxRotation: 0, autoSkip: false,
                   callback: v => String(v) },
          title: { display: true, text: 'Intensity Relative to Continuum (%)', color: TXT,
                   font: { size: 18 }, padding: { top: 0, bottom: c.xTitleBottom } }
        },
        y: {
          type: 'linear', min: 0.471, max: 0.478,
          afterBuildTicks: s => { s.ticks = yTickValues.map(v => ({ value: v })); },
          afterFit: s => { s.width = c.yWidth; },
          grid: { display: false, drawTicks: false }, border: { display: false },
          ticks: { font: { size: 17.5 }, color: TXT, padding: c.yPad, autoSkip: false,
                   callback: v => Number(v).toFixed(3) },
          title: { display: true, text: 'Radiance Ratio', color: TXT,
                   font: { size: 17.5 }, padding: { top: c.yTitleTop, bottom: 0 } }
        }
      }
    },
    plugins: [frameTicks]
  });
}

makePanel('c1', { title: titles[0], fitLabel: fitLabels[0], fit: fitABO, points: pointsABO, color: '#1f40ff',
  xMin: 3, xTicks: xTicksABO, xMinorStart: 5, xMinorStep: 5, legendW: 230,
  padRight: 27.5, titleTop: 6.2, titleBottom: 13.2, xHeight: 69, xPad: 11.5, xTitleBottom: 12.2,
  yWidth: 97, yPad: 17, yTitleTop: 6.5 });
makePanel('c2', { title: titles[1], fitLabel: fitLabels[1], fit: fitWCO, points: pointsWCO, color: '#0f7a0f',
  xMin: 64, xTicks: xTicksWCO, xMinorStart: 65, xMinorStep: 1, legendW: 234,
  padRight: 25.3, titleTop: 1.9, titleBottom: 13, xHeight: 66.5, xPad: 9, xTitleBottom: 11.2,
  yWidth: 96.5, yPad: 17.5, yTitleTop: 7.5 });
makePanel('c3', { title: titles[2], fitLabel: fitLabels[2], fit: fitSCO, points: pointsSCO, color: '#ff2a1f',
  xMin: 8.4, xTicks: xTicksSCO, xMinorStart: 10, xMinorStep: 5, legendW: 232,
  padRight: 27, titleTop: 5.8, titleBottom: 12.6, xHeight: 61, xPad: 11.2, xTitleBottom: 6.2,
  yWidth: 92.3, yPad: 19, yTitleTop: 2.5 });
</script>
</body></html>
